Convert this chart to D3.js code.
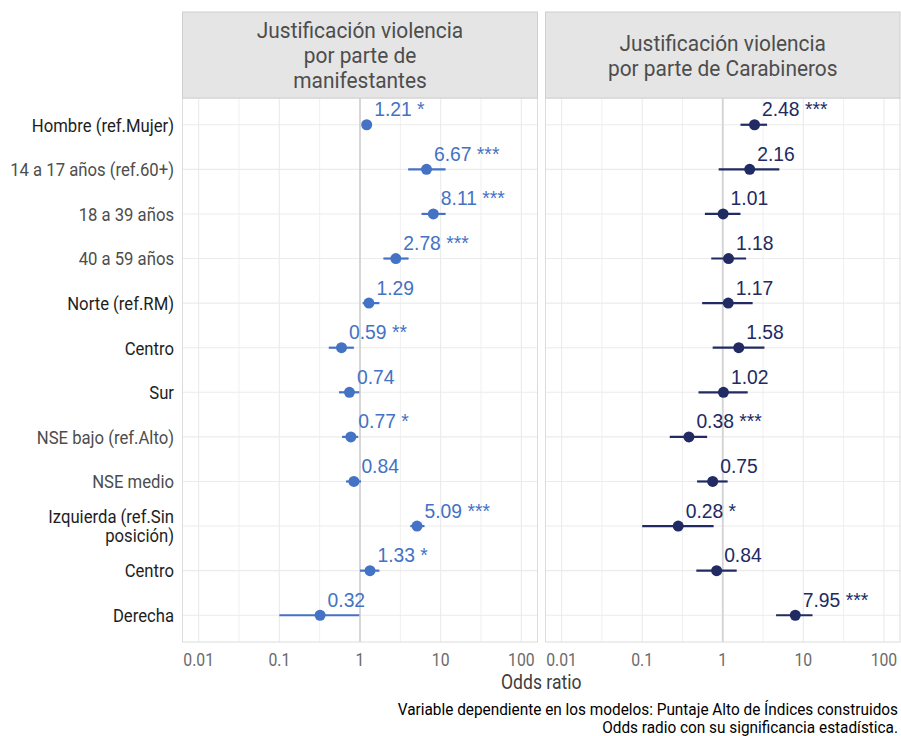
<!DOCTYPE html>
<html><head><meta charset="utf-8">
<script src="https://cdn.jsdelivr.net/npm/d3@7"></script>
<style>html,body{margin:0;padding:0;background:#fff;}svg{display:block;}</style>
</head><body>
<script>
const categories = ["Hombre (ref.Mujer)", "14 a 17 años (ref.60+)", "18 a 39 años", "40 a 59 años",
  "Norte (ref.RM)", "Centro", "Sur", "NSE bajo (ref.Alto)", "NSE medio",
  "Izquierda (ref.Sin\nposición)", "Centro", "Derecha"];
const panelTitles = ["Justificación violencia\npor parte de\nmanifestantes", "Justificación violencia\npor parte de Carabineros"];
const leftOR   = [1.21, 6.67, 8.11, 2.78, 1.29, 0.59, 0.74, 0.77, 0.84, 5.09, 1.33, 0.32];
const leftLow  = [1.10, 3.95, 5.79, 1.95, 1.08, 0.41, 0.55, 0.60, 0.67, 4.20, 1.00, 0.10];
const leftHigh = [1.34, 11.5, 11.5, 4.00, 1.74, 0.84, 0.98, 0.95, 1.03, 6.30, 1.74, 0.98];
const leftSig  = ["*", "***", "***", "***", "", "**", "", "*", "", "***", "*", ""];
const rightOR   = [2.48, 2.16, 1.01, 1.18, 1.17, 1.58, 1.02, 0.38, 0.75, 0.28, 0.84, 7.95];
const rightLow  = [1.66, 0.89, 0.60, 0.72, 0.555, 0.75, 0.50, 0.22, 0.48, 0.10, 0.47, 4.59];
const rightHigh = [3.55, 5.04, 1.66, 1.95, 2.35, 3.29, 2.04, 0.64, 1.15, 0.77, 1.49, 13.0];
const rightSig  = ["***", "", "", "", "", "", "", "***", "", "*", "", "***"];
const xTicks = [0.01, 0.1, 1, 10, 100];
const xTickLabels = ["0.01", "0.1", "1", "10", "100"];
const xTitle = "Odds ratio";
const captionLines = ["Variable dependiente en los modelos: Puntaje Alto de Índices construidos", "Odds radio con su significancia estadística."];

const W = 901, H = 736;
const svg = d3.select("body").append("svg").attr("width", W).attr("height", H);
const FONT = "Roboto, 'Noto Sans', sans-serif";
const SX = 0.9;
function ctext(g, x, yy, str, size, anchor, color, sx) {
  return g.append("g").attr("transform", `translate(${x},${yy}) scale(${sx},1)`)
    .append("text").attr("x", 0).attr("y", 0)
    .attr("font-family", FONT).attr("font-size", size).attr("text-anchor", anchor)
    .attr("fill", color).text(str);
}

const pTop = 98, pBottom = 642, stripTop = 12;
const panels = [
  {x0: 182.5, x1: 537.5, or: leftOR, lo: leftLow, hi: leftHigh, sig: leftSig, color: "#4472C4", title: panelTitles[0]},
  {x0: 545.5, x1: 900, or: rightOR, lo: rightLow, hi: rightHigh, sig: rightSig, color: "#212A62", title: panelTitles[1]}
];
const yScale = d3.scalePoint().domain(d3.range(categories.length)).range([pTop, pBottom]).padding(0.6);
const darkRows = new Set([0, 4, 5, 6, 9, 10, 11]);

panels.forEach(p => {
  const x = d3.scaleLog().domain([Math.pow(10, -2.2), Math.pow(10, 2.2)]).range([p.x0, p.x1]);
  const g = svg.append("g");
  const minor = [-1.5, -0.5, 0.5, 1.5].map(e => Math.pow(10, e));
  g.selectAll(".mn").data(minor).enter().append("line")
    .attr("x1", d => x(d)).attr("x2", d => x(d)).attr("y1", pTop).attr("y2", pBottom)
    .attr("stroke", "#f0f0f0").attr("stroke-width", 1);
  g.selectAll(".mj").data(xTicks).enter().append("line")
    .attr("x1", d => x(d)).attr("x2", d => x(d)).attr("y1", pTop).attr("y2", pBottom)
    .attr("stroke", "#ebebeb").attr("stroke-width", 1.1);
  g.selectAll(".hg").data(d3.range(categories.length)).enter().append("line")
    .attr("x1", p.x0).attr("x2", p.x1).attr("y1", d => yScale(d)).attr("y2", d => yScale(d))
    .attr("stroke", "#ebebeb").attr("stroke-width", 1.1);
  g.append("line").attr("x1", x(1)).attr("x2", x(1)).attr("y1", pTop).attr("y2", pBottom)
    .attr("stroke", "#d3d3d3").attr("stroke-width", 1.8);
  g.append("rect").attr("x", p.x0).attr("y", pTop).attr("width", p.x1 - p.x0).attr("height", pBottom - pTop)
    .attr("fill", "none").attr("stroke", "#dcdcdc").attr("stroke-width", 1);
  g.append("rect").attr("x", p.x0).attr("y", stripTop).attr("width", p.x1 - p.x0).attr("height", pTop - stripTop)
    .attr("fill", "#e5e5e5").attr("stroke", "#cfcfcf").attr("stroke-width", 1);
  const lines = p.title.split("\n");
  const lh = 25, cy = (stripTop + pTop) / 2;
  lines.forEach((ln, i) => {
    const yy = cy + (i - (lines.length - 1) / 2) * lh + 8.3;
    ctext(g, (p.x0 + p.x1) / 2, yy, ln, 22, "middle", "#4d4d4d", 0.95);
  });
  const idx = d3.range(categories.length);
  g.selectAll(".eb").data(idx).enter().append("line")
    .attr("x1", i => x(p.lo[i])).attr("x2", i => x(p.hi[i]))
    .attr("y1", i => yScale(i)).attr("y2", i => yScale(i))
    .attr("stroke", p.color).attr("stroke-width", 2.2);
  g.selectAll(".pt").data(idx).enter().append("circle")
    .attr("cx", i => x(p.or[i])).attr("cy", i => yScale(i)).attr("r", 5.5).attr("fill", p.color);
  g.selectAll(".lb").data(idx).enter().append("text")
    .attr("x", i => x(p.or[i]) + 7.5).attr("y", i => yScale(i) - 8.5)
    .attr("font-family", "'Liberation Sans', Arial, sans-serif").attr("font-size", 19.3)
    .attr("fill", p.color)
    .text(i => p.or[i].toFixed(2) + (p.sig[i] ? " " + p.sig[i] : ""));
  xTicks.forEach((t, i) => ctext(g, x(t), 665.5, xTickLabels[i], 17.5, "middle", "#6b6b6b", SX));
});

categories.forEach((c, i) => {
  const lines = c.split("\n");
  lines.forEach((ln, k) => {
    const yy = yScale(i) + (k - (lines.length - 1) / 2) * 19 + 6.8;
    ctext(svg, 174, yy, ln, 18, "end", darkRows.has(i) ? "#1e1e1e" : "#4d4d4d", 0.927);
  });
});

ctext(svg, (182.5 + 900) / 2, 689, xTitle, 19.5, "middle", "#3d3d3d", SX);
captionLines.forEach((ln, i) => ctext(svg, 898, 714.5 + i * 18.5, ln, 16, "end", "#000", 0.96));
</script>
</body></html>
